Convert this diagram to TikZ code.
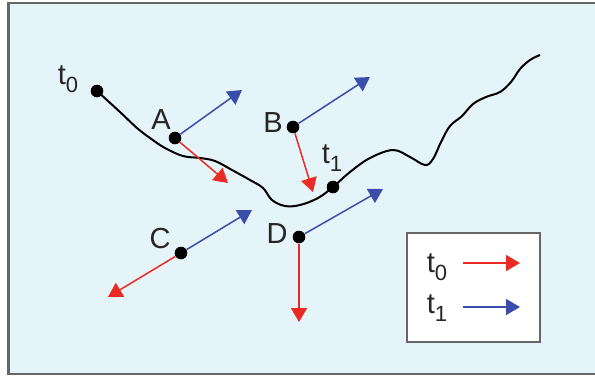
\documentclass[tikz,border=0pt]{standalone}
\usepackage{fontspec}
\setmainfont{Liberation Sans}
\usetikzlibrary{arrows.meta, positioning}
\definecolor{bgcyan}{HTML}{E4F4F8}
\definecolor{framegray}{HTML}{666666}
\definecolor{tred}{HTML}{EC2A24}
\definecolor{tblue}{HTML}{3A4DAA}
\newcommand{\tsub}[1]{t\raisebox{-0.55ex}{\fontsize{11}{12}\selectfont #1}}

\begin{document}
\begin{tikzpicture}[x=0.5pt, y=-0.5pt,
  dot/.style={circle, fill=black, inner sep=0pt, minimum size=6.3pt},
  lbl/.style={inner sep=0pt, font=\fontsize{14.5}{16}\selectfont, text=black!85},
  redarr/.style={-{Triangle[length=7pt, width=8pt]}, tred, line width=0.75pt},
  bluearr/.style={-{Triangle[length=7pt, width=8pt]}, tblue, line width=0.75pt},
  legbox/.style={draw=framegray, fill=white, line width=0.9pt},
]
\useasboundingbox (0,0) rectangle (595,377);
% frame
\draw[framegray, fill=bgcyan, line width=1.2pt] (8.5,3) rectangle (640,374);
% points
\node[dot] (t0) at (97, 91) {};
\node[dot] (a) at (175, 138) {};
\node[dot] (b) at (293, 127) {};
\node[dot] (t1) at (333, 187) {};
\node[dot] (c) at (181, 253) {};
\node[dot] (d) at (299, 237) {};
% labels
\node[lbl] (t0lbl) at (68, 79) {\tsub{0}};
\node[lbl] (albl) at (161, 120) {A};
\node[lbl] (blbl) at (273, 123) {B};
\node[lbl] (t1lbl) at (332, 158) {\tsub{1}};
\node[lbl] (clbl) at (160, 239) {C};
\node[lbl] (dlbl) at (277, 234) {D};
% path
\draw[black, line width=1pt] plot[smooth, tension=0.6] coordinates {
  (t0.center) (120,112) (137,128) (150,138) (165,148) (183,156) (200,158)
  (215,161) (232,170) (250,180) (263,188) (272,200) (285,206) (300,205)
  (318,198) (t1.center) (350,172) (370,158) (393,150) (410,157) (425,165)
  (433,159) (441,142) (450,126) (462,116) (473,104) (486,97) (500,92)
  (511,82) (520,69) (530,60) (540,55)};
% arrow ends
\coordinate (ab) at (242, 90);
\coordinate (ar) at (228, 183);
\coordinate (bb) at (370, 77);
\coordinate (br) at (313, 192);
\coordinate (cb) at (252, 210);
\coordinate (cr) at (108, 297);
\coordinate (db) at (383, 189);
\coordinate (dr) at (299, 322);
\draw[bluearr] (a) -- (ab);
\draw[redarr] (a) -- (ar);
\draw[bluearr] (b) -- (bb);
\draw[redarr] (b) -- (br);
\draw[bluearr] (c) -- (cb);
\draw[redarr] (c) -- (cr);
\draw[bluearr] (d) -- (db);
\draw[redarr] (d) -- (dr);
% legend
\node[legbox, minimum width=66.5pt, minimum height=54.5pt] (legend) at (473.5, 287.5) {};
\node[lbl] (leg0) at (437, 267) {\tsub{0}};
\node[lbl] (leg1) at (437, 308) {\tsub{1}};
\coordinate (leg0s) at (463, 263);
\coordinate (leg0e) at (520, 263);
\coordinate (leg1s) at (463, 307);
\coordinate (leg1e) at (520, 307);
\draw[redarr] (leg0s) -- (leg0e);
\draw[bluearr] (leg1s) -- (leg1e);
\end{tikzpicture}
\end{document}
